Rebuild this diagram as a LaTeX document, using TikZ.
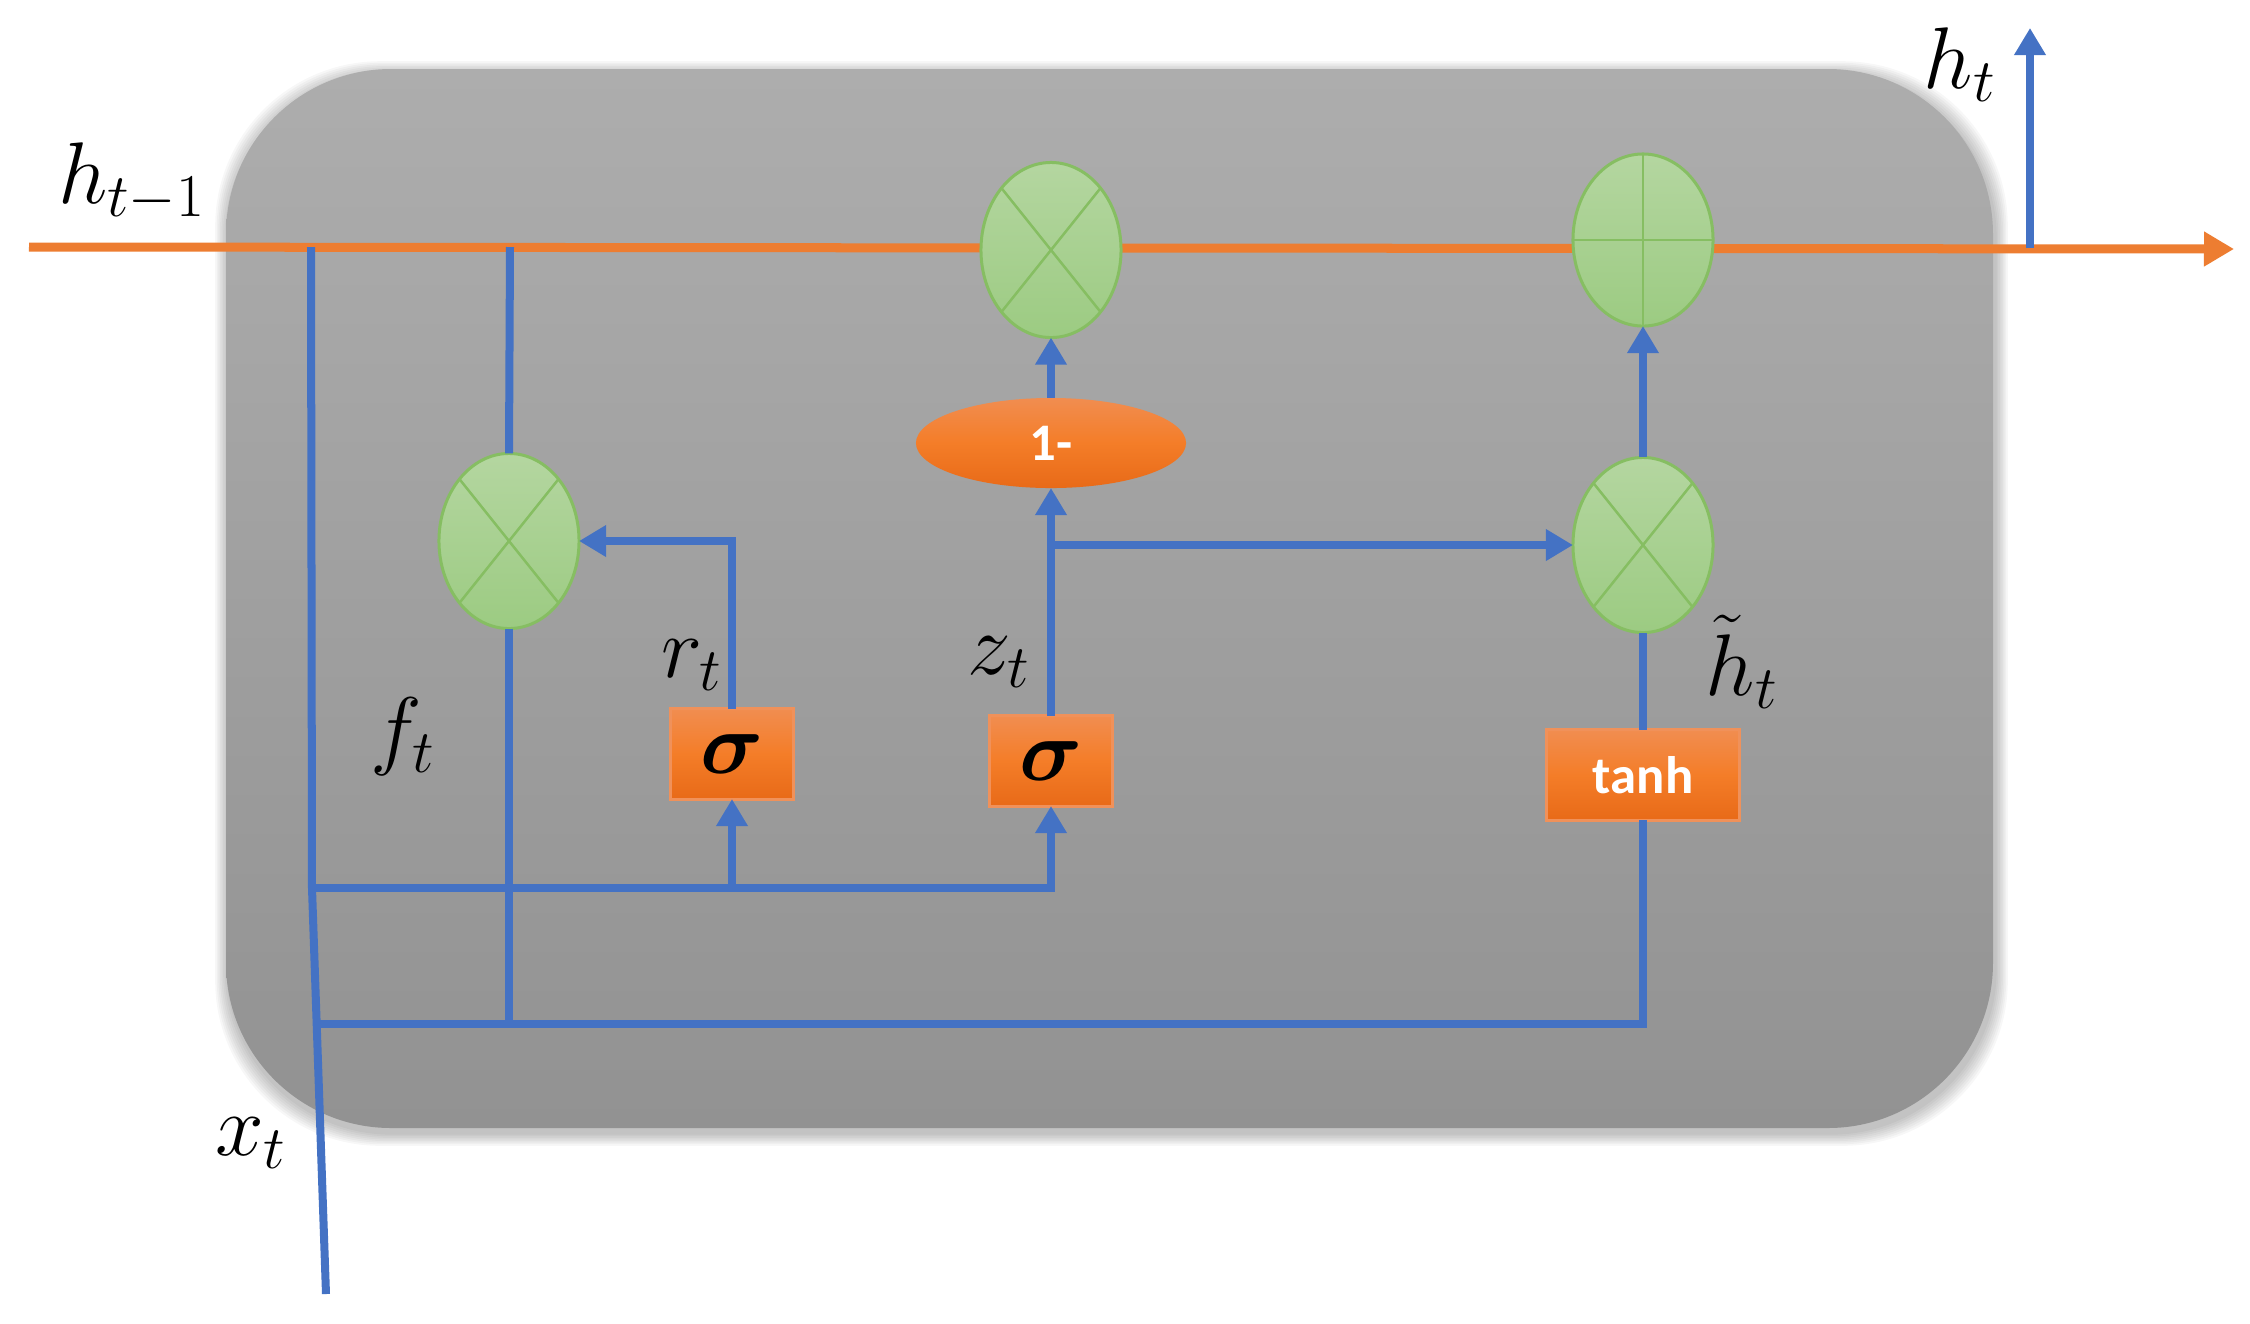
\documentclass[tikz,border=0pt]{standalone}
\usepackage{amsmath}
\usepackage{fontspec}
\newfontfamily\carl{Carlito}
\usetikzlibrary{arrows.meta,shapes.geometric,calc}

\definecolor{lblue}{RGB}{68,114,196}
\definecolor{lorange}{RGB}{237,125,49}
\definecolor{gtop}{RGB}{173,173,173}
\definecolor{gbot}{RGB}{146,146,146}
\definecolor{grtop}{RGB}{180,214,160}
\definecolor{grbot}{RGB}{156,203,130}
\definecolor{grline}{RGB}{134,190,98}
\definecolor{otop}{RGB}{241,141,80}
\definecolor{omid}{RGB}{244,125,40}
\definecolor{obot}{RGB}{232,106,24}
\definecolor{oline}{RGB}{240,145,90}

\begin{document}
\begin{tikzpicture}[x=0.01cm,y=-0.01cm,
  bl/.style={draw=lblue, line width=0.08cm},
  blarrow/.style={bl, -{Triangle[length=0.27cm,width=0.30cm]}},
  orline/.style={draw=lorange, line width=0.09cm},
  greenop/.style={ellipse, minimum width=1.40cm, minimum height=1.75cm,
    inner sep=0pt, outer sep=0pt, top color=grtop, bottom color=grbot,
    draw=grline, line width=0.03cm},
  mult/.style={greenop, path picture={
    \draw[grline, line width=0.025cm]
      (path picture bounding box.north west) -- (path picture bounding box.south east)
      (path picture bounding box.north east) -- (path picture bounding box.south west);}},
  addop/.style={greenop, minimum height=1.72cm, path picture={
    \draw[grline, line width=0.025cm]
      (path picture bounding box.north) -- (path picture bounding box.south)
      (path picture bounding box.west) -- (path picture bounding box.east);}},
  gatebox/.style={rectangle, minimum width=1.22cm, minimum height=0.90cm,
    inner sep=0pt, outer sep=0pt, top color=otop, bottom color=obot, middle color=omid,
    draw=oline, line width=0.03cm},
  oneop/.style={ellipse, minimum width=2.70cm, minimum height=0.90cm,
    inner sep=0pt, outer sep=0pt, top color=otop, bottom color=obot, middle color=omid},
  optext/.style={font=\carl\bfseries\fontsize{15}{18}\selectfont, text=white},
  sigtext/.style={font=\fontsize{26}{30}\selectfont},
  lab/.style={font=\fontsize{25}{30}\selectfont, inner sep=0pt}
]
% canvas
\fill[white] (0,0) rectangle (2250,1323);
\useasboundingbox (0,0) rectangle (2250,1323);

% soft shadow and cell body
\foreach \i in {1,...,8} {
  \fill[black, opacity=0.03, rounded corners=1.65cm]
    ({226-\i*1.6+2},{69-\i*1.6+5}) rectangle ({1993+\i*1.6+2},{1128+\i*1.6+5});
}
\shade[top color=gtop, bottom color=gbot, rounded corners=1.65cm]
  (226,69) rectangle (1993,1128);

% free ends and junctions
\coordinate (hin) at (29,247);
\coordinate (hout) at (2234,249);
\coordinate (j1) at (311,247);
\coordinate (j2) at (510,247);
\coordinate (j3) at (2030,248);
\coordinate (htop) at (2030,28);
\coordinate (xbot) at (326,1294);
\coordinate (k1) at (312,888);
\coordinate (k2) at (316.7,1024);

% hidden state line
\draw[orline, -{Triangle[length=0.30cm,width=0.33cm]}] (hin) -- (hout);

% operators
\node[mult] (mulA) at (509,541) {};
\node[mult] (mulB) at (1051,250) {};
\node[addop] (plus) at (1643,240) {};
\node[mult] (mulC) at (1643,545) {};
\node[oneop, optext] (one) at (1051,443) {1-};
\node[gatebox, sigtext] (sigR) at (732,754) {$\boldsymbol{\sigma}$};
\node[gatebox, sigtext] (sigZ) at (1051,761) {$\boldsymbol{\sigma}$};
\node[gatebox, optext, minimum width=1.92cm] (tanh) at (1643,775) {tanh};

% blue connectors
\draw[bl] (xbot) -- (k1) -- (j1);
\draw[blarrow] (k1) -| (sigZ.south);
\draw[blarrow] (k1 -| sigR.south) -- (sigR.south);
\draw[bl] (k2) -| (tanh.south);
\draw[bl] (j2) -- (mulA.north);
\draw[bl] (mulA.south) -- (mulA.south |- k2);
\draw[blarrow] (sigR.north) |- (mulA.east);
\draw[blarrow] (sigZ.north) -- (one.south);
\draw[blarrow] (sigZ.north |- mulC.west) -- (mulC.west);
\draw[blarrow] (one.north) -- (mulB.south);
\draw[bl] (tanh.north) -- (mulC.south);
\draw[blarrow] (mulC.north) -- (plus.south);
\draw[blarrow] (j3) -- (htop);

% labels
\node[lab] (lhprev) at (132,182) {$h_{t-1}$};
\node[lab] (lht) at (1960,65) {$h_t$};
\node[lab] (lft) at (403,737) {$f_t$};
\node[lab] (lrt) at (692,665) {$r_t$};
\node[lab] (lzt) at (999,662) {$z_t$};
\node[lab] (lhtil) at (1742,662) {$\tilde{h}_t$};
\node[lab] (lxt) at (251,1143) {$x_t$};
\end{tikzpicture}
\end{document}
